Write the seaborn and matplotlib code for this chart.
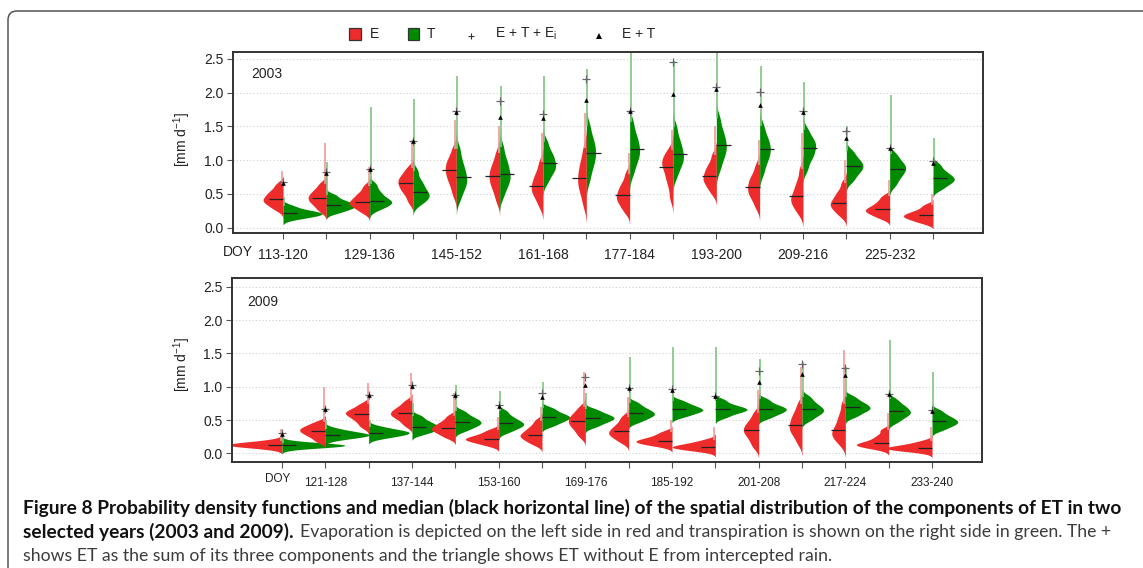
import numpy as np
import pandas as pd
import matplotlib
matplotlib.use("Agg")
import matplotlib.pyplot as plt
from matplotlib.patches import FancyBboxPatch, Rectangle
from matplotlib.lines import Line2D
from matplotlib.transforms import IdentityTransform
import seaborn as sns

# ---------------------------------------------------------------- data
periods = ["113-120", "121-128", "129-136", "137-144", "145-152", "153-160",
           "161-168", "169-176", "177-184", "185-192", "193-200", "201-208",
           "209-216", "217-224", "225-232", "233-240"]

# nine equal-mass quantiles (1/18 ... 17/18) of the spatial distribution, mm/d
e_2003 = [
    [0.27, 0.33, 0.37, 0.40, 0.43, 0.47, 0.51, 0.56, 0.64],
    [0.25, 0.32, 0.37, 0.41, 0.44, 0.48, 0.52, 0.57, 0.65],
    [0.23, 0.29, 0.33, 0.36, 0.385, 0.425, 0.47, 0.52, 0.61],
    [0.39, 0.50, 0.56, 0.61, 0.66, 0.70, 0.74, 0.80, 0.88],
    [0.50, 0.64, 0.72, 0.79, 0.85, 0.91, 0.97, 1.04, 1.17],
    [0.41, 0.55, 0.63, 0.70, 0.76, 0.82, 0.89, 0.97, 1.11],
    [0.33, 0.45, 0.51, 0.57, 0.62, 0.68, 0.75, 0.83, 0.97],
    [0.34, 0.50, 0.59, 0.67, 0.74, 0.82, 0.91, 1.01, 1.18],
    [0.24, 0.33, 0.39, 0.44, 0.48, 0.54, 0.60, 0.67, 0.80],
    [0.45, 0.63, 0.73, 0.82, 0.90, 0.95, 1.00, 1.06, 1.15],
    [0.52, 0.61, 0.67, 0.72, 0.76, 0.82, 0.88, 0.95, 1.08],
    [0.31, 0.43, 0.49, 0.55, 0.60, 0.66, 0.72, 0.79, 0.92],
    [0.22, 0.31, 0.37, 0.42, 0.46, 0.53, 0.61, 0.70, 0.86],
    [0.18, 0.25, 0.30, 0.34, 0.37, 0.42, 0.48, 0.54, 0.66],
    [0.14, 0.19, 0.22, 0.25, 0.27, 0.30, 0.34, 0.39, 0.46],
    [0.07, 0.11, 0.14, 0.16, 0.18, 0.205, 0.23, 0.27, 0.33],
]
t_2003 = [
    [0.13, 0.16, 0.18, 0.195, 0.21, 0.225, 0.24, 0.27, 0.32],
    [0.22, 0.26, 0.29, 0.31, 0.33, 0.36, 0.38, 0.42, 0.48],
    [0.27, 0.32, 0.35, 0.38, 0.40, 0.44, 0.49, 0.55, 0.64],
    [0.35, 0.41, 0.45, 0.49, 0.52, 0.58, 0.64, 0.71, 0.84],
    [0.43, 0.56, 0.63, 0.69, 0.75, 0.82, 0.90, 1.00, 1.16],
    [0.48, 0.61, 0.68, 0.74, 0.80, 0.87, 0.95, 1.04, 1.20],
    [0.68, 0.79, 0.85, 0.90, 0.95, 1.01, 1.07, 1.14, 1.27],
    [0.71, 0.87, 0.96, 1.04, 1.11, 1.18, 1.26, 1.35, 1.51],
    [0.81, 0.95, 1.03, 1.10, 1.16, 1.23, 1.31, 1.40, 1.56],
    [0.77, 0.90, 0.97, 1.03, 1.09, 1.16, 1.24, 1.33, 1.49],
    [0.87, 1.01, 1.09, 1.16, 1.22, 1.29, 1.37, 1.46, 1.62],
    [0.81, 0.95, 1.03, 1.10, 1.16, 1.22, 1.29, 1.37, 1.51],
    [0.86, 0.99, 1.06, 1.12, 1.18, 1.23, 1.28, 1.34, 1.45],
    [0.69, 0.77, 0.83, 0.87, 0.91, 0.95, 0.99, 1.05, 1.13],
    [0.63, 0.72, 0.78, 0.83, 0.87, 0.91, 0.95, 1.01, 1.09],
    [0.57, 0.63, 0.67, 0.70, 0.73, 0.76, 0.80, 0.85, 0.93],
]
e_max_2003 = [0.83, 1.25, 0.90, 1.30, 1.60, 1.50, 1.40, 1.70,
              1.10, 1.45, 1.50, 1.30, 1.40, 1.00, 0.70, 0.50]
t_max_2003 = [0.45, 0.97, 1.78, 1.90, 2.24, 2.10, 2.25, 2.35,
              2.60, 2.47, 2.62, 2.40, 2.15, 1.50, 1.97, 1.33]
et_ei_2003 = [0.67, 0.82, 0.87, 1.28, 1.72, 1.88, 1.68, 2.20,
              1.73, 2.45, 2.08, 2.01, 1.72, 1.43, 1.18, 0.99]
et_2003 = [0.66, 0.81, 0.86, 1.28, 1.71, 1.63, 1.62, 1.89,
           1.72, 1.98, 2.05, 1.82, 1.71, 1.32, 1.18, 0.96]

e_2009 = [
    [0.08, 0.10, 0.115, 0.12, 0.13, 0.135, 0.145, 0.16, 0.19],
    [0.18, 0.24, 0.28, 0.31, 0.34, 0.36, 0.39, 0.42, 0.47],
    [0.40, 0.47, 0.52, 0.56, 0.59, 0.615, 0.64, 0.68, 0.74],
    [0.42, 0.49, 0.54, 0.57, 0.60, 0.63, 0.665, 0.71, 0.78],
    [0.24, 0.29, 0.33, 0.355, 0.38, 0.41, 0.445, 0.49, 0.56],
    [0.12, 0.16, 0.185, 0.205, 0.22, 0.24, 0.265, 0.30, 0.35],
    [0.14, 0.19, 0.23, 0.26, 0.28, 0.32, 0.36, 0.41, 0.49],
    [0.26, 0.34, 0.40, 0.44, 0.48, 0.52, 0.56, 0.61, 0.69],
    [0.17, 0.23, 0.27, 0.30, 0.33, 0.37, 0.41, 0.47, 0.55],
    [0.11, 0.14, 0.16, 0.175, 0.19, 0.21, 0.235, 0.27, 0.32],
    [0.04, 0.06, 0.08, 0.09, 0.10, 0.115, 0.135, 0.16, 0.20],
    [0.10, 0.19, 0.26, 0.31, 0.35, 0.39, 0.44, 0.50, 0.60],
    [0.16, 0.27, 0.33, 0.38, 0.43, 0.49, 0.55, 0.62, 0.74],
    [0.14, 0.22, 0.27, 0.31, 0.35, 0.42, 0.50, 0.59, 0.74],
    [0.07, 0.10, 0.12, 0.135, 0.15, 0.18, 0.22, 0.27, 0.35],
    [0.03, 0.05, 0.065, 0.075, 0.08, 0.095, 0.115, 0.14, 0.18],
]
t_2009 = [
    [0.09, 0.10, 0.11, 0.115, 0.12, 0.125, 0.13, 0.14, 0.16],
    [0.21, 0.24, 0.255, 0.27, 0.28, 0.29, 0.31, 0.33, 0.37],
    [0.23, 0.26, 0.28, 0.295, 0.31, 0.325, 0.34, 0.36, 0.40],
    [0.29, 0.33, 0.36, 0.38, 0.40, 0.43, 0.46, 0.50, 0.56],
    [0.34, 0.39, 0.42, 0.45, 0.47, 0.50, 0.53, 0.57, 0.63],
    [0.32, 0.37, 0.40, 0.43, 0.45, 0.48, 0.515, 0.56, 0.63],
    [0.41, 0.46, 0.49, 0.52, 0.54, 0.565, 0.59, 0.63, 0.68],
    [0.40, 0.45, 0.48, 0.51, 0.53, 0.55, 0.58, 0.61, 0.66],
    [0.47, 0.52, 0.55, 0.58, 0.60, 0.63, 0.66, 0.70, 0.76],
    [0.55, 0.59, 0.62, 0.64, 0.66, 0.68, 0.71, 0.74, 0.79],
    [0.54, 0.59, 0.62, 0.645, 0.66, 0.68, 0.705, 0.74, 0.80],
    [0.53, 0.58, 0.61, 0.64, 0.66, 0.685, 0.71, 0.75, 0.81],
    [0.50, 0.56, 0.60, 0.63, 0.66, 0.69, 0.73, 0.78, 0.85],
    [0.55, 0.60, 0.64, 0.665, 0.69, 0.72, 0.75, 0.79, 0.85],
    [0.47, 0.53, 0.57, 0.60, 0.63, 0.66, 0.70, 0.74, 0.81],
    [0.35, 0.40, 0.43, 0.46, 0.48, 0.51, 0.54, 0.58, 0.64],
]
e_max_2009 = [0.37, 1.00, 1.05, 1.20, 0.90, 0.55, 0.70, 1.22,
              0.85, 0.50, 0.40, 0.95, 1.30, 1.55, 0.60, 0.40]
t_max_2009 = [0.25, 0.50, 0.50, 0.75, 1.02, 0.93, 1.07, 0.90,
              1.45, 1.60, 1.60, 1.42, 1.37, 1.30, 1.70, 1.22]
et_ei_2009 = [0.30, 0.67, 0.88, 1.02, 0.87, 0.72, 0.90, 1.15,
              0.98, 0.96, 0.86, 1.23, 1.34, 1.28, 0.89, 0.65]
et_2009 = [0.29, 0.67, 0.88, 1.01, 0.87, 0.71, 0.85, 1.03,
           0.98, 0.95, 0.86, 1.07, 1.19, 1.18, 0.89, 0.64]

labels_2003 = {0: "113-120", 2: "129-136", 4: "145-152", 6: "161-168",
               8: "177-184", 10: "193-200", 12: "209-216", 14: "225-232"}
labels_2009 = {1: "121-128", 3: "137-144", 5: "153-160", 7: "169-176",
               9: "185-192", 11: "201-208", 13: "217-224", 15: "233-240"}

RED = "#ee2c2c"
GREEN = "#008b00"
RED_LIGHT = "#f39a9a"
GREEN_LIGHT = "#80c580"

# ---------------------------------------------------------------- style
sns.set_style("white")
plt.rcParams["font.family"] = ["Liberation Sans", "DejaVu Sans"]
plt.rcParams["mathtext.fontset"] = "custom"
plt.rcParams["mathtext.rm"] = "Liberation Sans"

W, H = 1143, 568
fig = plt.figure(figsize=(W / 100, H / 100), dpi=100)


def px_rect(left, top, right, bottom):
    return [left / W, 1 - bottom / H, (right - left) / W, (bottom - top) / H]


def common_bandwidth(kde):
    # one kernel width floor shared by all beans, widened for broad ones
    sd = float(np.std(kde.dataset, ddof=1))
    return max(0.035, 0.42 * sd) / sd


def long_table(e_q, t_q):
    rows = []
    for period, ev, tv in zip(periods, e_q, t_q):
        rows += [(period, "E", v) for v in ev]
        rows += [(period, "T", v) for v in tv]
    return pd.DataFrame(rows, columns=["period", "comp", "value"])


def bean_panel(ax, e_q, t_q, e_max, t_max, et_ei, et, width, ylim):
    df = long_table(e_q, t_q)
    sns.violinplot(data=df, x="period", y="value", hue="comp",
                   order=periods, hue_order=["E", "T"],
                   palette={"E": RED, "T": GREEN}, saturation=1,
                   split=True, inner=None, linewidth=0,
                   density_norm="area", common_norm=True,
                   bw_method=common_bandwidth, cut=2.5, gridsize=300,
                   width=width, legend=False, ax=ax)
    pos = np.arange(len(periods))
    e_hi = [q[-1] for q in e_q]
    t_hi = [q[-1] for q in t_q]
    ax.vlines(pos - 0.02, e_hi, e_max, color=RED_LIGHT, lw=1.2, zorder=1.5)
    ax.vlines(pos + 0.02, t_hi, t_max, color=GREEN_LIGHT, lw=1.2, zorder=1.5)
    e_med = [np.median(q) for q in e_q]
    t_med = [np.median(q) for q in t_q]
    ax.hlines(e_med, pos - 0.33, pos, color="#222222", lw=0.9, zorder=3)
    ax.hlines(t_med, pos, pos + 0.33, color="#222222", lw=0.9, zorder=3)
    ax.scatter(pos, et_ei, marker="+", s=34, color="#666666",
               linewidths=0.9, zorder=4)
    ax.scatter(pos, et, marker="^", s=11, color="black",
               linewidths=0, zorder=5)
    ax.set_xlim(-1.154, 16.154)
    ax.set_ylim(*ylim)
    ax.set_yticks([0, 0.5, 1.0, 1.5, 2.0, 2.5])
    ax.set_yticklabels(["0.0", "0.5", "1.0", "1.5", "2.0", "2.5"])
    ax.yaxis.grid(True, linestyle=(0, (1, 2)), color="#cfcfcf", lw=0.8)
    ax.xaxis.grid(False)
    ax.set_axisbelow(True)
    ax.set_xlabel("")
    ax.set_ylabel("")
    for s in ax.spines.values():
        s.set_color("#333333")
        s.set_linewidth(1.4)
    ax.tick_params(axis="y", left=True, length=4, width=0.8, color="#555555",
                   labelsize=10, pad=3, labelcolor="#222222")
    ax.tick_params(axis="x", bottom=True, length=4, width=0.8,
                   color="#555555", labelcolor="#222222", pad=7)
    ax.set_xticks(pos)


ax1 = fig.add_axes(px_rect(233, 52, 983, 233))
bean_panel(ax1, e_2003, t_2003, e_max_2003, t_max_2003, et_ei_2003, et_2003,
           width=1.8, ylim=(-0.081, 2.60))
ax1.set_xticklabels([labels_2003.get(i, "") for i in range(len(periods))],
                    fontsize=10)
ax1.text(-1.04, -0.105, "DOY", transform=ax1.get_xaxis_transform(),
         ha="center", va="center", fontsize=10, color="#222222")
ax1.text(0.025, 0.876, "2003", transform=ax1.transAxes, ha="left",
         va="center", fontsize=10, color="#222222")

ax2 = fig.add_axes(px_rect(232, 278, 982, 462))
bean_panel(ax2, e_2009, t_2009, e_max_2009, t_max_2009, et_ei_2009, et_2009,
           width=2.9, ylim=(-0.13, 2.63))
ax2.set_xticklabels([labels_2009.get(i, "") for i in range(len(periods))],
                    fontsize=8.5)
ax2.text(-0.1, -0.09, "DOY", transform=ax2.get_xaxis_transform(),
         ha="center", va="center", fontsize=8.5, color="#222222")
ax2.text(0.021, 0.87, "2009", transform=ax2.transAxes, ha="left",
         va="center", fontsize=10, color="#222222")

for yc in (140, 365):
    fig.text(182 / W, 1 - yc / H, r"[mm d$^{\mathrm{-1}}$]", rotation=90,
             ha="center", va="center", fontsize=10, color="#222222")

# ---------------------------------------------------------------- legend row
def fx(x):
    return x / W


def fy(y):
    return 1 - y / H


ly = 33.5
for x0, col, lab, lx in [(349, RED, "E", 370), (407.5, GREEN, "T", 427)]:
    fig.add_artist(Rectangle((fx(x0), fy(ly + 6)), 11.5 / W, 12 / H,
                             transform=fig.transFigure, facecolor=col,
                             edgecolor="#333333", lw=0.9))
    fig.text(fx(lx), fy(ly), lab, ha="left", va="center", fontsize=10,
             color="#222222")
fig.add_artist(Line2D([fx(471)], [fy(35.5)], marker="+", markersize=4,
                      color="#333333", mew=0.8, transform=fig.transFigure))
fig.text(fx(495), fy(ly), r"E + T + E$_{\mathrm{i}}$", ha="left", va="center",
         fontsize=10, color="#222222")
fig.add_artist(Line2D([fx(599)], [fy(35.5)], marker="^", markersize=4,
                      color="black", mew=0, transform=fig.transFigure))
fig.text(fx(622), fy(ly), "E + T", ha="left", va="center", fontsize=10,
         color="#222222")

# ---------------------------------------------------------------- caption
cap_bold_1 = ("Figure 8 Probability density functions and median (black "
              "horizontal line) of the spatial distribution of the components "
              "of ET in two")
cap_bold_2 = "selected years (2003 and 2009)."
cap_reg_2 = ("Evaporation is depicted on the left side in red and "
             "transpiration is shown on the right side in green. The +")
cap_reg_3 = ("shows ET as the sum of its three components and the triangle "
             "shows ET without E from intercepted rain.")

renderer = fig.canvas.get_renderer()
CAP_X = 23


def fitted(text, weight, target_px, y, color):
    t = fig.text(fx(CAP_X), fy(y), text, ha="left", va="center",
                 fontfamily="Lato", fontweight=weight, fontsize=12,
                 color=color)
    w = t.get_window_extent(renderer=renderer).width
    t.set_fontsize(12 * target_px / w)
    return t


t1 = fitted(cap_bold_1, "bold", 1117 - CAP_X, 508, "#111111")
t2 = fig.text(fx(CAP_X), fy(532), cap_bold_2, ha="left", va="center",
              fontfamily="Lato", fontweight="bold",
              fontsize=t1.get_fontsize(), color="#111111")
t3 = fitted(cap_reg_3, "normal", 828 - CAP_X, 556, "#3c3c3c")
x_after = t2.get_window_extent(renderer=renderer).x1 + 6
fig.text(x_after / W, fy(532), cap_reg_2, ha="left", va="center",
         fontfamily="Lato", fontweight="normal", fontsize=t3.get_fontsize(),
         color="#3c3c3c")

# rounded frame around the figure block
frame = FancyBboxPatch((8, -60), 1300, (H - 11) + 60,
                       boxstyle="round,pad=0,rounding_size=9",
                       transform=IdentityTransform(), facecolor="none",
                       edgecolor="#555555", lw=1.1)
fig.add_artist(frame)

fig.savefig("out.png", dpi=100)
